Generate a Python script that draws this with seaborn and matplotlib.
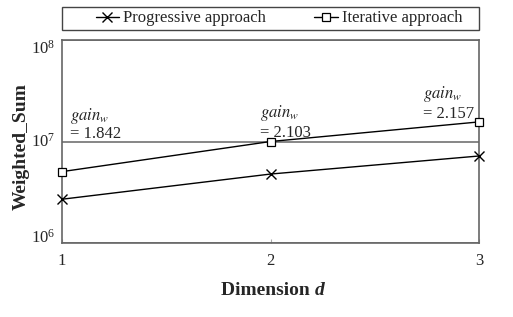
import matplotlib
matplotlib.use("Agg")
import matplotlib.pyplot as plt
import seaborn as sns
from matplotlib.patches import Rectangle
from matplotlib.ticker import FixedLocator, LogFormatterSciNotation, NullLocator

dims = [1, 2, 3]
progressive = [2.70e6, 4.78e6, 7.20e6]
iterative = [5.05e6, 1.00e7, 1.56e7]
gains = ["1.842", "2.103", "2.157"]
series_names = ["Progressive approach", "Iterative approach"]
ytick_values = [1e6, 1e7, 1e8]

sns.set_style("ticks")
plt.rcParams["font.family"] = ["Liberation Serif", "DejaVu Serif"]
plt.rcParams["mathtext.fontset"] = "stix"

fig = plt.figure(figsize=(5.13, 3.17), dpi=100)
ax = fig.add_axes([0.1209, 0.2334, 0.8129, 0.6404])

sns.lineplot(x=dims, y=progressive, ax=ax, color="black", linewidth=1.0,
             marker="x", markersize=7.5, markeredgecolor="black",
             markeredgewidth=1.0, label=series_names[0], clip_on=False, zorder=5)
sns.lineplot(x=dims, y=iterative, ax=ax, color="black", linewidth=1.0,
             marker="s", markersize=6.2, markerfacecolor="white",
             markeredgecolor="black", markeredgewidth=0.9, label=series_names[1],
             clip_on=False, zorder=5)

ax.set_yscale("log")
ax.set_ylim(1e6, 1e8)
ax.set_xlim(1, 3)
ax.set_xticks(dims)
ax.set_xticklabels([str(d) for d in dims])
ax.yaxis.set_major_locator(FixedLocator(ytick_values))
ax.yaxis.set_major_formatter(LogFormatterSciNotation())
ax.yaxis.set_minor_locator(NullLocator())
ax.yaxis.grid(True, color="#666666", linewidth=1.1)
ax.xaxis.grid(False)
ax.set_axisbelow(True)
ax.tick_params(axis="x", direction="in", length=3, labelsize=12, color="#aaaaaa", pad=7)
ax.tick_params(axis="y", length=0, labelsize=12, pad=5)
for s in ax.spines.values():
    s.set_color("#666666")
    s.set_linewidth(1.2)

fig.canvas.draw()
for t, va in zip(ax.yaxis.get_major_ticks(), ["baseline", "center", "top"]):
    t.label1.set_va(va)

ax.set_xlabel("")
fig.text(0.614, 0.069, "Dimension ", fontsize=14, fontweight="bold", ha="right", va="baseline")
fig.text(0.614, 0.069, "d", fontsize=14, fontweight="bold", style="italic", ha="left", va="baseline")
ax.set_ylabel("Weighted_Sum", fontsize=14, fontweight="bold")
ax.yaxis.set_label_coords(-0.077, 0.473)

gain_offsets = [(5.8, 37.5), (-7.6, 18.0), (-40.3, 17.5)]
value_offsets = [(5.8, 24.3), (-7.6, 3.0), (-40.3, 2.6)]
for d, v, g, go, vo in zip(dims, iterative, gains, gain_offsets, value_offsets):
    ax.annotate("$\\mathit{gain}_w$", xy=(d, v), xytext=go,
                textcoords="offset points", fontsize=12, ha="left", va="baseline")
    ax.annotate("= " + g, xy=(d, v), xytext=vo,
                textcoords="offset points", fontsize=12, ha="left", va="baseline")

ax.add_patch(Rectangle((0, 1.049), 1, 0.113, transform=ax.transAxes, fill=False,
                       edgecolor="#444444", linewidth=1.0, clip_on=False))
handles, labels = ax.get_legend_handles_labels()
ax.legend(handles, labels, loc="center", bbox_to_anchor=(0.52, 1.106),
          ncol=2, frameon=False, fontsize=12, borderaxespad=0,
          handlelength=1.4, handletextpad=0.25, columnspacing=2.9, borderpad=0.0)

fig.savefig("out.png", dpi=100)
